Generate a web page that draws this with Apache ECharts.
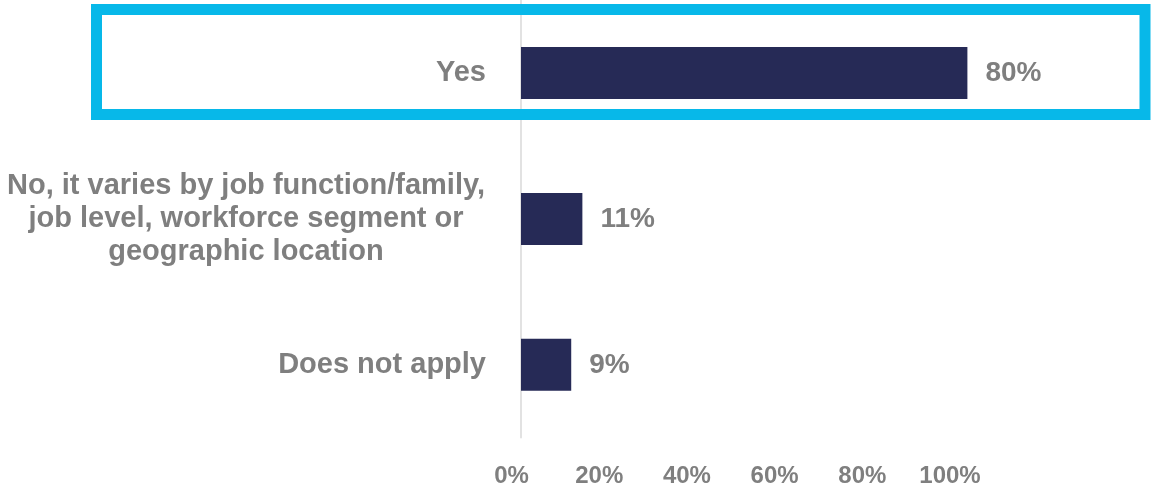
<!DOCTYPE html>
<html>
<head>
<meta charset="utf-8">
<script src="https://cdn.jsdelivr.net/npm/echarts@6/dist/echarts.min.js"></script>
<style>
  html, body { margin: 0; padding: 0; background: #ffffff; }
  #chart { width: 1151px; height: 490px; }
</style>
</head>
<body>
<div id="chart"></div>
<script>
// Survey answers, top to bottom
const categories = [
  'Yes',
  'No, it varies by job function/family,\njob level, workforce segment or\ngeographic location',
  'Does not apply'
];
// Share of respondents (%)
const shares = [80, 11, 9];
// Percent scale shown along the bottom
const tickValues = [0, 20, 40, 60, 80, 100];

const GRAY = '#7f7f7f';
const NAVY = '#262a56';
const FONT = '"Liberation Sans", Arial, sans-serif';

// Multi-line answers are centred line by line inside a fixed-width block
function categoryLabel(text) {
  if (text.indexOf('\n') < 0) return text;
  return text.split('\n').map(l => '{c|' + l + '}').join('\n');
}

const chart = echarts.init(document.getElementById('chart'), null, { renderer: 'canvas' });

chart.setOption({
  animation: false,
  backgroundColor: '#ffffff',
  grid: [
    { left: 521, right: 72, top: -4.75, height: 442.5, containLabel: false },
    { left: 511.5, right: 201, top: 0, height: 440, containLabel: false }
  ],
  xAxis: [
    {
      gridIndex: 0, type: 'value', min: 0, max: 100,
      show: false
    },
    {
      gridIndex: 1, type: 'value', min: 0, max: 100, interval: 20,
      axisLine: { show: false }, axisTick: { show: false }, splitLine: { show: false },
      axisLabel: {
        margin: 24,
        color: GRAY,
        fontFamily: FONT,
        fontWeight: 'bold',
        fontSize: 24,
        formatter: v => tickValues.indexOf(v) >= 0 ? v + '%' : ''
      }
    }
  ],
  yAxis: [
    {
      gridIndex: 0, type: 'category', data: categories, inverse: true,
      axisLine: { show: true, lineStyle: { color: '#d9d9d9', width: 1.5 } },
      axisTick: { show: false },
      splitLine: { show: false },
      axisLabel: {
        margin: 35,
        color: GRAY,
        fontFamily: FONT,
        fontWeight: 'bold',
        fontSize: 29,
        lineHeight: 33,
        formatter: categoryLabel,
        rich: {
          c: {
            width: 480, align: 'center', color: GRAY,
            fontFamily: FONT, fontWeight: 'bold', fontSize: 29, lineHeight: 33
          }
        }
      }
    },
    {
      gridIndex: 1, type: 'category', data: categories, show: false
    }
  ],
  series: [
    {
      type: 'bar',
      xAxisIndex: 0, yAxisIndex: 0,
      data: shares,
      barWidth: 52,
      itemStyle: { color: NAVY },
      label: {
        show: true,
        position: 'right',
        distance: 18,
        color: GRAY,
        fontFamily: FONT,
        fontWeight: 'bold',
        fontSize: 28,
        formatter: p => p.value + '%'
      }
    }
  ],
  graphic: [
    {
      type: 'rect',
      z: 100,
      shape: { x: 96.5, y: 9.5, width: 1048.5, height: 105 },
      style: { fill: null, stroke: '#07b8e9', lineWidth: 11 }
    }
  ]
});
</script>
</body>
</html>
